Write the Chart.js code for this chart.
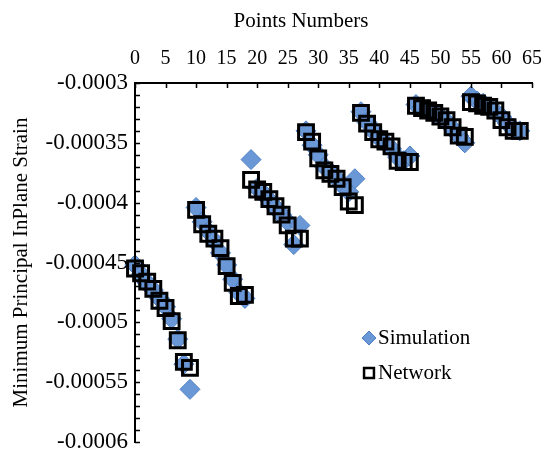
<!DOCTYPE html>
<html>
<head>
<meta charset="utf-8">
<title>Minimum Principal InPlane Strain</title>
<script src="https://cdn.jsdelivr.net/npm/chart.js@4.4.1/dist/chart.umd.min.js"></script>
<style>
  html, body { margin: 0; padding: 0; background: #fff; }
  canvas { display: block; }
</style>
</head>
<body>
<canvas id="strainChart" width="541" height="451"></canvas>
<script>
// Dados
const pointNumbers = [
  0, 1, 2, 3, 4, 5, 6, 7, 8, 9,
  10, 11, 12, 13, 14, 15, 16, 17, 18,
  19, 20, 21, 22, 23, 24, 25, 26, 27,
  28, 29, 30, 31, 32, 33, 34, 35, 36,
  37, 38, 39, 40, 41, 42, 43, 44, 45,
  46, 47, 48, 49, 50, 51, 52, 53, 54,
  55, 56, 57, 58, 59, 60, 61, 62, 63
];

const simulation = [
  -0.000452, -0.000460, -0.000467, -0.000473, -0.000480, -0.000487, -0.000497, -0.000514, -0.000535, -0.000556,
  -0.000404, -0.000416, -0.000424, -0.000432, -0.000442, -0.000452, -0.000464, -0.000475, -0.000480,
  -0.000364, -0.000388, -0.000392, -0.000398, -0.000404, -0.000410, -0.000416, -0.000435, -0.000419,
  -0.000340, -0.000352, -0.000360, -0.000370, -0.000374, -0.000380, -0.000386, -0.000391, -0.000380,
  -0.000324, -0.000333, -0.000340, -0.000346, -0.000350, -0.000355, -0.000362, -0.000365, -0.000361,
  -0.000318, -0.000320, -0.000322, -0.000325, -0.000328, -0.000332, -0.000338, -0.000344, -0.000350,
  -0.000311, -0.000315, -0.000317, -0.000320, -0.000324, -0.000328, -0.000334, -0.000338, -0.000340
];

const network = [
  -0.000455, -0.000459, -0.000466, -0.000472, -0.000482, -0.000488, -0.000499, -0.000515, -0.000533, -0.000538,
  -0.000406, -0.000418, -0.000426, -0.000430, -0.000438, -0.000453, -0.000467, -0.000478, -0.000477,
  -0.000381, -0.000389, -0.000391, -0.000397, -0.000403, -0.000410, -0.000419, -0.000430, -0.000430,
  -0.000341, -0.000349, -0.000363, -0.000373, -0.000376, -0.000380, -0.000387, -0.000399, -0.000402,
  -0.000325, -0.000334, -0.000341, -0.000347, -0.000349, -0.000353, -0.000365, -0.000366, -0.000366,
  -0.000319, -0.000321, -0.000323, -0.000325, -0.000328, -0.000331, -0.000337, -0.000344, -0.000345,
  -0.000316, -0.000317, -0.000319, -0.000320, -0.000323, -0.000331, -0.000337, -0.000340, -0.000340
];

const xTicks = [0, 5, 10, 15, 20, 25, 30, 35, 40, 45, 50, 55, 60, 65];
const yMin = -0.0006;
const yMax = -0.0003;
const yStep = 0.00005;
const yMinorStep = 0.00001;

const FONT = "'Liberation Serif', 'Times New Roman', serif";
const SIM_FILL = '#6A97D5';
const SIM_BORDER = '#4F7FC4';

function toPoints(ys) {
  return pointNumbers.map((x, i) => ({ x: x, y: ys[i] }));
}

// Marcas dos eixos para dentro, linhas dos eixos, título do eixo x e legenda
const axesPlugin = {
  id: 'axesInside',
  afterDraw(chart) {
    const ctx = chart.ctx;
    const area = chart.chartArea;
    const xs = chart.scales.x;
    const ys = chart.scales.y;
    ctx.save();
    ctx.strokeStyle = '#000';
    ctx.lineWidth = 2;
    ctx.beginPath();
    ctx.moveTo(area.left, area.bottom + 1);
    ctx.lineTo(area.left, area.top);
    ctx.lineTo(area.right + 1, area.top);
    ctx.stroke();

    ctx.lineWidth = 1.5;
    ctx.beginPath();
    xTicks.forEach(v => {
      const px = Math.round(xs.getPixelForValue(v)) + 0.5;
      ctx.moveTo(px, area.top);
      ctx.lineTo(px, area.top + 5);
    });
    const n = Math.round((yMax - yMin) / yMinorStep);
    for (let k = 0; k <= n; k++) {
      const py = Math.round(ys.getPixelForValue(yMin + k * yMinorStep)) + 0.5;
      ctx.moveTo(area.left, py);
      ctx.lineTo(area.left + 5, py);
    }
    ctx.stroke();

    // título do eixo x
    ctx.fillStyle = '#000';
    ctx.font = '21px ' + FONT;
    ctx.textAlign = 'center';
    ctx.textBaseline = 'middle';
    ctx.fillText('Points Numbers', 301, 21);

    // legenda
    ctx.fillStyle = SIM_FILL;
    ctx.strokeStyle = SIM_BORDER;
    ctx.lineWidth = 1;
    Chart.helpers.drawPoint(ctx, { pointStyle: 'rectRot', radius: 7, borderWidth: 1, rotation: 0 }, 369, 338);
    ctx.fillStyle = 'rgba(0,0,0,0)';
    ctx.strokeStyle = '#000';
    ctx.lineWidth = 2.5;
    Chart.helpers.drawPoint(ctx, { pointStyle: 'rect', radius: 7, borderWidth: 2.5, rotation: 0 }, 369, 373);

    ctx.fillStyle = '#000';
    ctx.font = '21px ' + FONT;
    ctx.textAlign = 'left';
    ctx.fillText('Simulation', 378, 338);
    ctx.fillText('Network', 378, 373);
    ctx.restore();
  }
};

const ctx = document.getElementById('strainChart').getContext('2d');
const strainChart = new Chart(ctx, {
  type: 'scatter',
  data: {
    datasets: [{
      label: 'Simulation',
      data: toPoints(simulation),
      pointStyle: 'rectRot',
      pointRadius: 10,
      backgroundColor: SIM_FILL,
      borderColor: SIM_BORDER,
      borderWidth: 1,
      order: 1,
      clip: false
    }, {
      label: 'Network',
      data: toPoints(network),
      pointStyle: 'rect',
      pointRadius: 10.5,
      backgroundColor: 'rgba(0,0,0,0)',
      borderColor: '#000',
      borderWidth: 3,
      order: 0,
      clip: false
    }]
  },
  options: {
    responsive: false,
    animation: false,
    devicePixelRatio: 1,
    layout: { autoPadding: false, padding: { left: 0, right: 9, top: 0, bottom: 9 } },
    plugins: {
      legend: { display: false },
      tooltip: { enabled: false }
    },
    scales: {
      x: {
        type: 'linear',
        position: 'top',
        min: 0,
        max: 65,
        afterBuildTicks: scale => {
          scale.ticks = xTicks.map(v => ({ value: v }));
        },
        afterFit: scale => {
          scale.height = 83;
          scale.paddingLeft = 0;
          scale.paddingRight = 0;
        },
        ticks: {
          color: '#000',
          font: { family: FONT, size: 20 },
          padding: 12,
          maxRotation: 0,
          autoSkip: false
        },
        grid: { display: false, drawTicks: false },
        border: { display: false },
        title: { display: false }
      },
      y: {
        min: yMin,
        max: yMax,
        afterFit: scale => {
          scale.width = 135;
          scale.paddingTop = 0;
          scale.paddingBottom = 0;
        },
        ticks: {
          stepSize: yStep,
          color: '#000',
          font: { family: FONT, size: 23 },
          padding: 7,
          callback: v => Number(v.toFixed(5)).toString()
        },
        grid: { display: false, drawTicks: false },
        border: { display: false },
        title: {
          display: true,
          text: 'Minimum Principal InPlane Strain',
          color: '#000',
          font: { family: FONT, size: 21 },
          padding: { top: 9, bottom: 0 }
        }
      }
    }
  },
  plugins: [axesPlugin]
});
</script>
</body>
</html>
